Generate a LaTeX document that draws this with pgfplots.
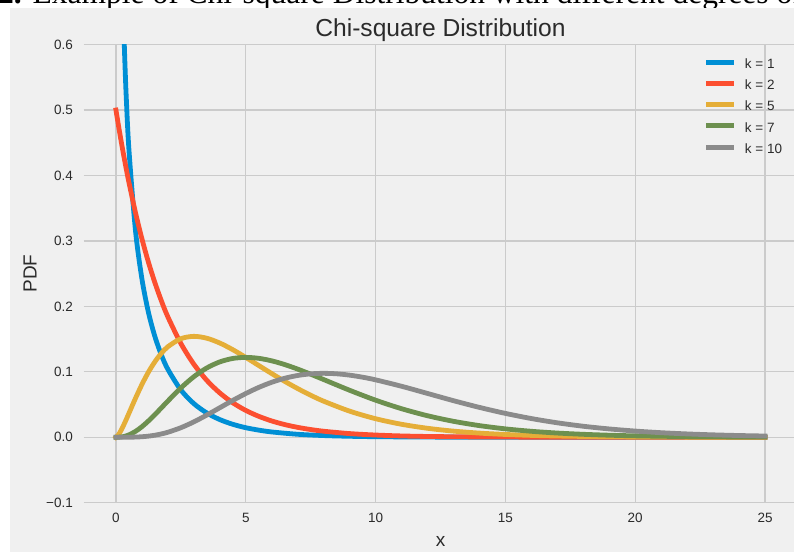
\documentclass[border=0pt]{standalone}
\usepackage{pgfplots}
\pgfplotsset{compat=1.18}
\usepackage{fontspec}
\setmainfont{Liberation Sans}
\newfontfamily\capfont{Liberation Serif}
\definecolor{cA}{HTML}{008FD5}
\definecolor{cB}{HTML}{FC4F30}
\definecolor{cC}{HTML}{E5AE38}
\definecolor{cD}{HTML}{6D904F}
\definecolor{cE}{HTML}{8B8B8B}
\definecolor{bgc}{HTML}{F0F0F0}
\definecolor{gridc}{HTML}{CBCBCB}
\definecolor{labc}{HTML}{2B2B2B}
\begin{document}
\begin{tikzpicture}
\node[anchor=base east, inner sep=0pt, font=\capfont\bfseries\fontsize{31.5bp}{36bp}\selectfont] at (22bp,549bp) {Figure 2.};
\node[anchor=base west, inner sep=0pt, font=\capfont\fontsize{31.5bp}{36bp}\selectfont] at (32.5bp,549bp) {Example of Chi-square Distribution with different degrees of freedom};
\fill[bgc] (10bp,1bp) rectangle (800bp,545bp);
\begin{axis}[
  at={(83.5bp,50.3bp)}, anchor=south west, scale only axis,
  width=714bp, height=458.1bp,
  xmin=-1.25, xmax=26.25, ymin=-0.1, ymax=0.6,
  axis line style={draw=none}, major tick length=0pt,
  xtick={0,5,10,15,20,25}, xticklabels={0,5,10,15,20,25},
  ytick={-0.1,0,0.1,0.2,0.3,0.4,0.5,0.6},
  yticklabels={−0.1,0.0,0.1,0.2,0.3,0.4,0.5,0.6},
  grid=major, major grid style={color=gridc, line width=1.2bp},
  tick label style={font=\fontsize{13.5bp}{16bp}\selectfont, text=labc},
  xticklabel style={inner sep=0pt, yshift=-10.5bp},
  yticklabel style={inner sep=0pt, xshift=-10.5bp},
  title={Chi-square Distribution},
  title style={at={(axis description cs:0.5,1)}, anchor=base, yshift=2.6bp, inner sep=0pt, font=\fontsize{24.6bp}{28bp}\selectfont, text=labc},
  xlabel={x},
  xlabel style={at={(axis description cs:0.5,0)}, anchor=base, yshift=-44bp, inner sep=0pt, font=\fontsize{19bp}{22bp}\selectfont, text=labc},
  ylabel={PDF},
  ylabel style={at={(axis description cs:-0.0655,0.5)}, anchor=base, inner sep=0pt, font=\fontsize{19bp}{22bp}\selectfont, text=labc},
  legend cell align=left,
  legend style={at={(axis description cs:0.869,0.979)}, anchor=north west, draw=none, fill=none, inner sep=0pt, outer sep=0pt, row sep=7bp, column sep=8bp,
    nodes={inner sep=0pt, text height=9.5bp, text depth=0pt, font=\fontsize{13.5bp}{15bp}\selectfont, text=labc}},
  legend image code/.code={\path[draw=none] (0bp,0bp) -- (28bp,9.5bp); \draw[#1, line width=5bp, line cap=butt] (0bp,1.7bp) -- (28bp,1.7bp);},
]
\addplot[cA, line width=4.8bp, line cap=rect, smooth] coordinates {
(0.1,1.2000)(0.15,0.9556)(0.2,0.8072)(0.25,0.7041)(0.3,0.6269)(0.35,0.5661)(0.4,0.5164)(0.5,0.4394)(0.75,0.3166)(1,0.2420)(1.25,0.1910)(1.5,0.1539)(1.75,0.1257)(2,0.1038)(2.5,0.0723)(3,0.0514)(3.5,0.0371)(4,0.0270)(4.5,0.0198)(5,0.0146)(5.5,0.0109)(6,0.0081)(7,0.00455)(8,0.00258)(9,0.00148)(10,0.00085)(12,0.000285)(14,0.0000972)(16,0.0000334)(20,0.000004)(25,0)};
\addlegendentry{k = 1}
\addplot[cB, line width=4.8bp, line cap=rect, smooth] coordinates {
(0,0.5)(0.1,0.4756)(0.2,0.4524)(0.3,0.4304)(0.4,0.4094)(0.5,0.3894)(0.75,0.3436)(1,0.3033)(1.25,0.2676)(1.5,0.2362)(1.75,0.2084)(2,0.1839)(2.5,0.1433)(3,0.1116)(3.5,0.0869)(4,0.0677)(4.5,0.0527)(5,0.0410)(5.5,0.0320)(6,0.0249)(6.5,0.0194)(7,0.0151)(7.5,0.0118)(8,0.0092)(9,0.0056)(10,0.0034)(11,0.0020)(12,0.0012)(13,0.0008)(14,0.0005)(15,0.0003)(16,0.0002)(18,0.0001)(20,0.00002)(25,0.000002)};
\addlegendentry{k = 2}
\addplot[cC, line width=4.8bp, line cap=rect, smooth] coordinates {
(0,0)(0.1,0.0040)(0.2,0.01076)(0.3,0.01881)(0.4,0.02754)(0.5,0.03662)(0.75,0.05936)(1,0.08066)(1.25,0.09948)(1.5,0.11540)(1.75,0.12833)(2,0.13837)(2.5,0.15060)(3,0.15418)(3.5,0.15131)(4,0.14398)(4.5,0.13380)(5,0.12204)(5.5,0.10965)(6,0.09730)(6.5,0.08545)(7,0.07437)(7.5,0.06424)(8,0.05511)(9,0.03989)(10,0.02833)(11,0.01983)(12,0.01370)(13,0.00937)(14,0.00635)(15,0.00427)(16,0.00285)(17,0.00189)(18,0.00125)(19,0.00082)(20,0.00054)(22,0.00023)(25,0.00006)};
\addlegendentry{k = 5}
\addplot[cD, line width=4.8bp, line cap=rect, smooth] coordinates {
(0,0)(0.1,0.00008)(0.2,0.00043)(0.3,0.00113)(0.4,0.00220)(0.5,0.00366)(0.75,0.00890)(1,0.01613)(1.25,0.02487)(1.5,0.03462)(1.75,0.04492)(2,0.05535)(2.5,0.07530)(3,0.09251)(3.5,0.10592)(4,0.11518)(4.5,0.12042)(5,0.12204)(5.5,0.12062)(6,0.11677)(6.5,0.11108)(7,0.10412)(7.5,0.09635)(8,0.08818)(9,0.07180)(10,0.05667)(11,0.04362)(12,0.03289)(13,0.02436)(14,0.01779)(15,0.01282)(16,0.00912)(17,0.00643)(18,0.00450)(19,0.00313)(20,0.00216)(22,0.00101)(25,0.00031)};
\addlegendentry{k = 7}
\addplot[cE, line width=4.8bp, line cap=rect, smooth] coordinates {
(0,0)(0.25,0.0000039)(0.5,0.0000634)(0.75,0.000283)(1,0.00079)(1.25,0.00170)(1.5,0.00311)(1.75,0.00509)(2,0.00766)(2.5,0.01457)(3,0.02353)(3.5,0.03395)(4,0.04511)(4.5,0.05628)(5,0.06680)(5.5,0.07617)(6,0.08402)(6.5,0.09012)(7,0.09440)(7.5,0.09689)(8,0.09768)(8.5,0.09695)(9,0.09490)(9.5,0.09176)(10,0.08773)(11,0.07791)(12,0.06693)(13,0.05589)(14,0.04562)(15,0.03645)(16,0.02859)(17,0.02208)(18,0.01681)(19,0.01271)(20,0.00946)(21,0.00697)(22,0.00509)(23,0.00369)(24,0.00265)(25,0.00190)};
\addlegendentry{k = 10}
\end{axis}
\pgfresetboundingbox
\useasboundingbox (0bp,0bp) rectangle (794bp,553bp);
\end{tikzpicture}
\end{document}
